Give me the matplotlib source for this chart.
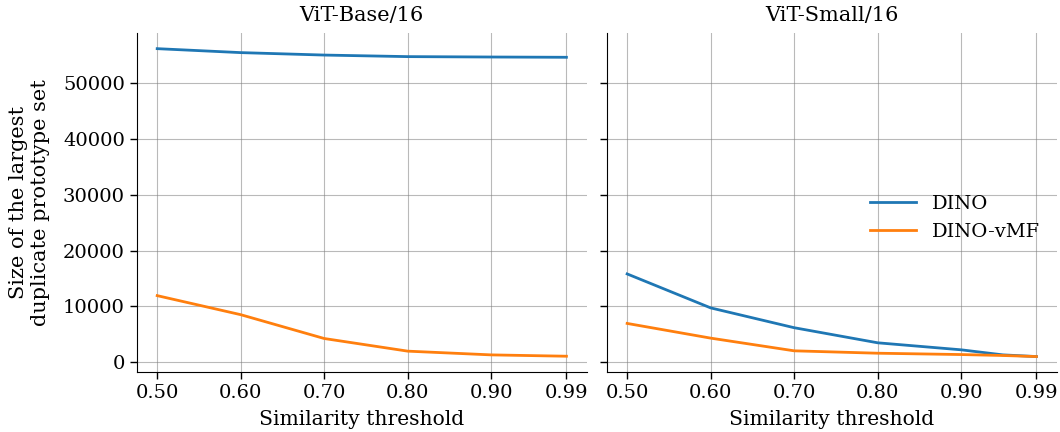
import matplotlib
matplotlib.use("Agg")
import matplotlib.pyplot as plt

# similarity thresholds
thr_base = [0.50, 0.60, 0.70, 0.80, 0.90, 0.99]
thr_small = [0.50, 0.60, 0.70, 0.80, 0.90, 0.95, 0.99]
xticks = [0.50, 0.60, 0.70, 0.80, 0.90, 0.99]

# size of the largest duplicate prototype set
base_dino = [56250, 55540, 55100, 54820, 54750, 54700]
base_vmf = [11900, 8480, 4200, 1930, 1260, 1020]
small_dino = [15800, 9700, 6140, 3430, 2170, 1260, 960]
small_vmf = [6910, 4270, 1990, 1560, 1320, 1150, 960]

titles = ["ViT-Base/16", "ViT-Small/16"]

plt.rcParams['font.family'] = ['DejaVu Serif']
plt.rcParams['font.size'] = 14

fig, axes = plt.subplots(1, 2, figsize=(10.6, 4.32), dpi=100, sharey=True)
fig.subplots_adjust(left=0.129, right=0.997, bottom=0.139, top=0.923, wspace=0.044)

data = [(thr_base, base_dino, base_vmf), (thr_small, small_dino, small_vmf)]
for ax, title, (x, dino, vmf) in zip(axes, titles, data):
    ax.plot(x, dino, color='#1f77b4', lw=2, label='DINO')
    ax.plot(x, vmf, color='#ff7f0e', lw=2, label='DINO-vMF')
    ax.set_title(title, fontsize=15, pad=9)
    ax.set_xlabel("Similarity threshold", fontsize=14.6, labelpad=6)
    ax.set_xticks(xticks)
    ax.set_xticklabels([f"{t:.2f}" for t in xticks])
    ax.grid(True, color='gray', alpha=0.55, lw=0.8)
    ax.spines['top'].set_visible(False)
    ax.spines['right'].set_visible(False)
    ax.tick_params(length=5, width=1, labelsize=14)

axes[0].set_ylabel("Size of the largest\nduplicate prototype set", fontsize=15, labelpad=9)
axes[0].set_yticks([0, 10000, 20000, 30000, 40000, 50000])
axes[1].tick_params(labelleft=False)
axes[1].legend(loc='center left', bbox_to_anchor=(0.545, 0.455), frameon=False,
               fontsize=14, handlelength=2.4)

fig.savefig("out.png", dpi=100)
